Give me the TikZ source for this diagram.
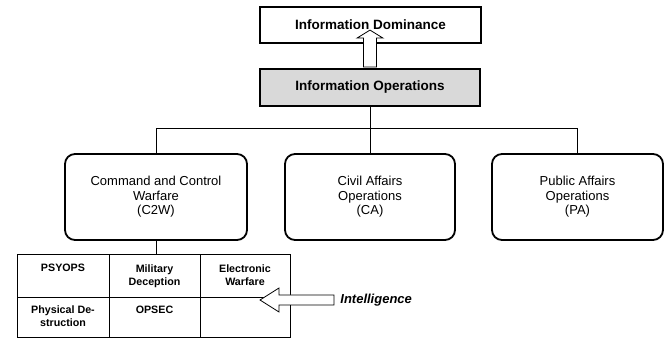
\documentclass[tikz,border=0pt]{standalone}
\usepackage{fontspec}
\setmainfont{Liberation Sans}
\usetikzlibrary{positioning}

\tikzset{
  topbox/.style={draw, line width=1.8pt, minimum width=221pt, minimum height=36pt, inner sep=0pt,
    font=\fontsize{13.5}{16}\selectfont\bfseries},
  opbox/.style={draw, rounded corners=10pt, line width=1.8pt, minimum height=86pt, inner sep=0pt,
    align=center, font=\fontsize{13}{14.5}\selectfont},
  cell/.style={draw, line width=0.8pt, inner sep=0pt},
  celltext/.style={inner sep=0pt, align=center, font=\fontsize{10.7}{13}\selectfont\bfseries},
  hollow/.style={draw, fill=white, line width=0.8pt, line join=miter},
}

\begin{document}
\begin{tikzpicture}[x=1pt, y=-1pt, line width=0.8pt]
\useasboundingbox (0,0) rectangle (665,339);

% Top of the hierarchy
\node[topbox] (dom) at (370.5,25) {Information Dominance};
\node[topbox, fill=gray!30, minimum width=220pt, minimum height=37pt] (ops) at (370,87.5) {Information Operations};

% Hollow arrow from operations up to dominance
\draw[hollow] (ops.north) ++(-6.5,-1) -- ++(0,-29) -- ++(-6.5,0) -- ++(13,-8) -- ++(13,8) -- ++(-6.5,0) -- ++(0,29) -- cycle;

% The three kinds of operations
\node[opbox, minimum width=182pt] (c2w) at (156,197) {Command and Control\\Warfare\\(C2W)};
\node[opbox, minimum width=170pt] (ca) at (370,197) {Civil Affairs\\Operations\\(CA)};
\node[opbox, minimum width=171pt] (pa) at (577.5,197) {Public Affairs\\Operations\\(PA)};

% Tree lines, with a bus coordinate below the operations box
\draw (ops.south) -- ++(0,22) coordinate (bus);
\draw (c2w.north) |- (bus) -| (pa.north);
\draw (bus) -- (ca.north);

% Table of the elements of C2W
\foreach \name/\x/\y/\w/\h in {psyops/63/275.5/92pt/43pt, mildec/154.5/275.5/91pt/43pt, elwar/245/275.5/90pt/43pt,
    physdes/63/317/92pt/40pt, opsec/154.5/317/91pt/40pt, blank/245/317/90pt/40pt}
	\node[cell, minimum width=\w, minimum height=\h] (\name) at (\x,\y) {};

\foreach \name/\txt/\gap in {psyops/PSYOPS/10.5pt, mildec/{Military\\Deception}/10.5pt, elwar/{Electronic\\Warfare}/10.5pt,
    physdes/{Physical De-\\struction}/9pt, opsec/OPSEC/9pt}
	\node[celltext, below=\gap of \name.north] (\name-text) {\txt};

\draw (c2w.south) -- (c2w.south |- mildec.north);

% Intelligence feeds the table, the arrow is filled white over the grid
\node[inner sep=0pt, anchor=west, font=\fontsize{13}{15}\selectfont\bfseries\itshape] (intel) at (340,300) {Intelligence};
\draw[hollow] (intel.west) ++(-6,-5) -- ++(-55,0) -- ++(0,-7) -- ++(-19,12) -- ++(19,12) -- ++(0,-7) -- ++(55,0) -- cycle;
\end{tikzpicture}
\end{document}
